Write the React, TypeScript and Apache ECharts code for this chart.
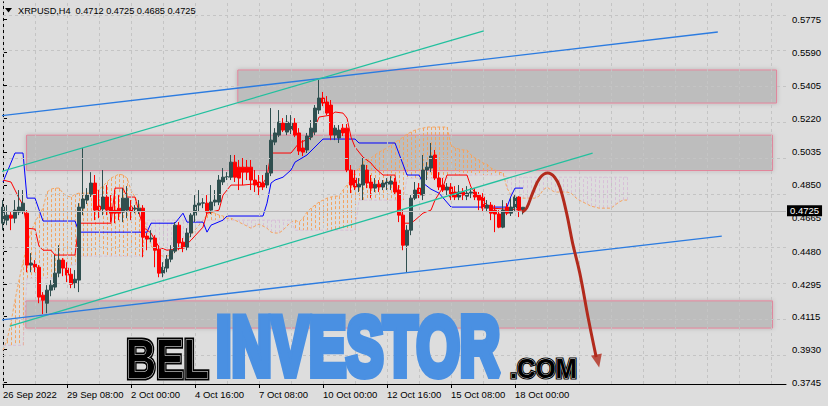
import React, { useEffect, useRef } from "react";
import * as echarts from "echarts";

// ---- axis labels ----
const timeLabels = ["26 Sep 2022", "29 Sep 08:00", "2 Oct 00:00", "4 Oct 16:00", "7 Oct 08:00", "10 Oct 00:00", "12 Oct 16:00", "15 Oct 08:00", "18 Oct 00:00"];
const priceTicks = [0.3745, 0.393, 0.4115, 0.4295, 0.448, 0.4665, 0.485, 0.5035, 0.522, 0.5405, 0.559, 0.5775];

// ---- H4 candles (bar index 0..130) ----
const opens = [
  0.4636, 0.4653, 0.4681, 0.4664, 0.4698, 0.4704, 0.4692, 0.4402, 0.4407, 0.439,
  0.4234, 0.4189, 0.4262, 0.4279, 0.4357, 0.443, 0.4385, 0.4351, 0.4301, 0.4318,
  0.472, 0.4765, 0.4798, 0.486, 0.4731, 0.4715, 0.4782, 0.4726, 0.4709, 0.472,
  0.4698, 0.4709, 0.4726, 0.4715, 0.4704, 0.472, 0.4564, 0.4547, 0.4553, 0.4491,
  0.4357, 0.4385, 0.4435, 0.448, 0.4625, 0.453, 0.4502, 0.4581, 0.4681, 0.4737,
  0.4748, 0.4748, 0.4709, 0.4754, 0.4754, 0.4866, 0.4893, 0.4893, 0.4977, 0.4949,
  0.4949, 0.4949, 0.4949, 0.4877, 0.4866, 0.486, 0.4849, 0.4916, 0.5089, 0.5128,
  0.5195, 0.5145, 0.5156, 0.5195, 0.514, 0.5056, 0.5045, 0.5117, 0.5145, 0.5268,
  0.5335, 0.5313, 0.5296, 0.5128, 0.5112, 0.5167, 0.5167, 0.4933, 0.4888, 0.4838,
  0.4849, 0.4933, 0.4866, 0.4832, 0.4854, 0.4838, 0.4854, 0.4854, 0.4866, 0.4821,
  0.4681, 0.4513, 0.4597, 0.4776, 0.4832, 0.4793, 0.4933, 0.4944, 0.5017, 0.4888,
  0.4849, 0.4821, 0.4838, 0.481, 0.4782, 0.481, 0.4787, 0.4804, 0.481, 0.4793,
  0.4782, 0.472, 0.4737, 0.4709, 0.4687, 0.4614, 0.4726, 0.4692, 0.472, 0.4782,
  0.4712,
];
const closes = [
  0.4726, 0.4681, 0.4664, 0.4709, 0.4726, 0.4748, 0.4402, 0.4413, 0.439, 0.4223,
  0.4206, 0.4262, 0.429, 0.4357, 0.443, 0.4385, 0.4346, 0.4295, 0.4323, 0.4726,
  0.4771, 0.4793, 0.486, 0.4709, 0.4709, 0.4782, 0.4709, 0.4692, 0.4692, 0.4692,
  0.4776, 0.4776, 0.4704, 0.472, 0.472, 0.4558, 0.4547, 0.4553, 0.4485, 0.4357,
  0.439, 0.4435, 0.4485, 0.4625, 0.4525, 0.4497, 0.4581, 0.4681, 0.4737, 0.4748,
  0.475, 0.4698, 0.4754, 0.4765, 0.4877, 0.4893, 0.4895, 0.4977, 0.4893, 0.4888,
  0.4921, 0.4921, 0.4877, 0.4849, 0.4838, 0.4838, 0.4916, 0.51, 0.514, 0.5201,
  0.5156, 0.5201, 0.5195, 0.5128, 0.5039, 0.5033, 0.5123, 0.5167, 0.5279, 0.5335,
  0.5307, 0.5251, 0.5128, 0.5167, 0.5156, 0.514, 0.4933, 0.4849, 0.4838, 0.4854,
  0.4961, 0.486, 0.4832, 0.4854, 0.4838, 0.486, 0.4866, 0.4871, 0.481, 0.4681,
  0.4513, 0.4597, 0.4776, 0.4821, 0.4793, 0.4933, 0.4949, 0.5011, 0.4888, 0.4838,
  0.4821, 0.4838, 0.4782, 0.4782, 0.481, 0.4793, 0.4804, 0.481, 0.4782, 0.4765,
  0.472, 0.4737, 0.4692, 0.4687, 0.4614, 0.4709, 0.4692, 0.4726, 0.4782, 0.4709,
  0.4725,
];
const lows = [
  0.4597, 0.4625, 0.4597, 0.4636, 0.4681, 0.4687, 0.4362, 0.4362, 0.4362, 0.4189,
  0.4128, 0.4133, 0.4228, 0.4262, 0.4334, 0.434, 0.4307, 0.4273, 0.4273, 0.4251,
  0.4681, 0.4743, 0.4782, 0.4653, 0.4664, 0.4681, 0.4681, 0.4642, 0.4636, 0.4653,
  0.4642, 0.4664, 0.4653, 0.4692, 0.4687, 0.4446, 0.4485, 0.453, 0.439, 0.4334,
  0.4334, 0.4362, 0.4418, 0.4469, 0.4485, 0.4474, 0.4485, 0.4558, 0.4642, 0.4698,
  0.472, 0.4681, 0.4687, 0.4731, 0.4737, 0.4849, 0.4877, 0.4877, 0.4866, 0.4821,
  0.4849, 0.4877, 0.4821, 0.481, 0.4793, 0.4821, 0.4832, 0.4899, 0.5072, 0.5117,
  0.5145, 0.5128, 0.5134, 0.5117, 0.5017, 0.5011, 0.5028, 0.51, 0.5128, 0.5246,
  0.529, 0.524, 0.51, 0.51, 0.5084, 0.5123, 0.4921, 0.4804, 0.4821, 0.481,
  0.4765, 0.4832, 0.4776, 0.481, 0.481, 0.4821, 0.4821, 0.4821, 0.4793, 0.4642,
  0.4485, 0.4362, 0.4569, 0.4765, 0.4776, 0.4765, 0.4877, 0.4921, 0.4877, 0.4821,
  0.481, 0.4793, 0.4765, 0.4765, 0.4765, 0.4765, 0.4765, 0.4776, 0.4765, 0.4709,
  0.4698, 0.4698, 0.4653, 0.4586, 0.4608, 0.4608, 0.4681, 0.4676, 0.4698, 0.467,
  0.4685,
];
const highs = [
  0.4765, 0.4737, 0.4698, 0.4765, 0.4821, 0.4821, 0.4709, 0.4469, 0.443, 0.4402,
  0.4251, 0.429, 0.4318, 0.4458, 0.4513, 0.4441, 0.4418, 0.4385, 0.4374, 0.4748,
  0.5056, 0.4832, 0.4921, 0.4905, 0.4821, 0.4933, 0.4849, 0.4793, 0.4821, 0.4793,
  0.4832, 0.4843, 0.4765, 0.4737, 0.4765, 0.4737, 0.4581, 0.4597, 0.4569, 0.4513,
  0.4418, 0.4458, 0.4513, 0.4642, 0.4642, 0.4553, 0.4608, 0.4692, 0.4793, 0.4821,
  0.4776, 0.4793, 0.4849, 0.4821, 0.4905, 0.4944, 0.4921, 0.5017, 0.5017, 0.4989,
  0.5, 0.4989, 0.4989, 0.4933, 0.4905, 0.4905, 0.4961, 0.5279, 0.5167, 0.5268,
  0.5223, 0.524, 0.524, 0.5223, 0.5167, 0.51, 0.514, 0.5212, 0.5296, 0.5436,
  0.5369, 0.5346, 0.5324, 0.5184, 0.5184, 0.519, 0.519, 0.4961, 0.4933, 0.4888,
  0.5, 0.4961, 0.4905, 0.4888, 0.4877, 0.4877, 0.4888, 0.4899, 0.4888, 0.4849,
  0.4709, 0.4625, 0.4793, 0.4866, 0.486, 0.5017, 0.4977, 0.5084, 0.5045, 0.4921,
  0.4888, 0.486, 0.486, 0.4843, 0.4849, 0.4832, 0.4843, 0.4832, 0.4832, 0.481,
  0.4804, 0.4765, 0.4754, 0.4737, 0.4709, 0.4765, 0.4748, 0.4776, 0.4793, 0.4787,
  0.4725,
];

// ---- Ichimoku ----
const spanA = [
  0.3927, 0.3982, 0.4083, 0.4206, 0.4318, 0.4418, 0.4513, 0.4586, 0.4642, 0.4681,
  0.472, 0.481, 0.4826, 0.4832, 0.4832, 0.4804, 0.4787, 0.4782, 0.4798, 0.4804,
  0.4804, 0.4804, 0.4804, 0.481, 0.4826, 0.4843, 0.4866, 0.4888, 0.4899, 0.491,
  0.4905, 0.4888, 0.4821, 0.4782, 0.4743, 0.4681, 0.4597, 0.4513, 0.4474, 0.4458,
  0.4452, 0.4452, 0.4458, 0.4474, 0.4497, 0.4519, 0.4541, 0.4569, 0.4597, 0.4625,
  0.4653, 0.4681, 0.4698, 0.4692, 0.4681, 0.4676, 0.4664, 0.4664, 0.4653, 0.4642,
  0.4631, 0.462, 0.4608, 0.462, 0.4631, 0.462, 0.4608, 0.4586, 0.4581, 0.4581,
  0.4597, 0.462, 0.4642, 0.4653, 0.4642, 0.4664, 0.4698, 0.472, 0.4737, 0.4754,
  0.4765, 0.4776, 0.4782, 0.4787, 0.4787, 0.4821, 0.4849, 0.4877, 0.4921, 0.4944,
  0.4977, 0.4989, 0.5, 0.5017, 0.5033, 0.5045, 0.5056, 0.5072, 0.5089, 0.51,
  0.5117, 0.5134, 0.5145, 0.5156, 0.5162, 0.5167, 0.5173, 0.5173, 0.5173, 0.5173,
  0.5173, 0.5173, 0.5072, 0.5056, 0.505, 0.5045, 0.5045, 0.5017, 0.5, 0.4989,
  0.4972, 0.4966, 0.4944, 0.4933, 0.4921, 0.4916, 0.4832, 0.4793, 0.4782, 0.4776,
  0.4776, 0.4776, 0.4776, 0.4776, 0.4787, 0.4821, 0.4838, 0.4821, 0.481, 0.481,
  0.481, 0.481, 0.4804, 0.4782, 0.4765, 0.4754, 0.4743, 0.4731, 0.4726, 0.472,
  0.472, 0.472, 0.472, 0.4737, 0.4754, 0.4765, 0.4765,
];
const spanB = [
  0.3954, 0.3954, 0.3954, 0.3954, 0.3954, 0.3954, 0.4329, 0.4329, 0.4329, 0.4329,
  0.4329, 0.4329, 0.4329, 0.4329, 0.4402, 0.4402, 0.4402, 0.4402, 0.4402, 0.4452,
  0.4452, 0.4452, 0.4452, 0.4452, 0.4452, 0.4452, 0.4452, 0.4452, 0.4452, 0.4452,
  0.4452, 0.4452, 0.4452, 0.4452, 0.4452, 0.4452, 0.4653, 0.4653, 0.4653, 0.4653,
  0.4653, 0.4653, 0.4653, 0.4653, 0.4653, 0.4653, 0.4653, 0.4653, 0.4653, 0.4653,
  0.4653, 0.4653, 0.4653, 0.4653, 0.4653, 0.4653, 0.4653, 0.4653, 0.4653, 0.4653,
  0.4653, 0.4653, 0.4653, 0.4653, 0.4653, 0.4653, 0.4653, 0.4653, 0.4653, 0.4653,
  0.4653, 0.4653, 0.4653, 0.4597, 0.4597, 0.4597, 0.4597, 0.4597, 0.4597, 0.4597,
  0.4597, 0.4597, 0.4597, 0.4597, 0.4597, 0.4597, 0.4597, 0.4597, 0.4597, 0.4765,
  0.4765, 0.4765, 0.4765, 0.4765, 0.4765, 0.4765, 0.4765, 0.4765, 0.4765, 0.4765,
  0.4765, 0.4888, 0.4888, 0.4888, 0.4888, 0.4888, 0.4888, 0.4888, 0.4888, 0.4888,
  0.4888, 0.4888, 0.4905, 0.4905, 0.4905, 0.4905, 0.4905, 0.4905, 0.4905, 0.4905,
  0.4905, 0.4905, 0.4905, 0.4905, 0.4905, 0.4905, 0.4893, 0.4893, 0.4893, 0.4893,
  0.4893, 0.4893, 0.4893, 0.4893, 0.4893, 0.4893, 0.4893, 0.4893, 0.4893, 0.4893,
  0.4893, 0.4893, 0.4893, 0.4893, 0.4893, 0.4893, 0.4893, 0.4893, 0.4893, 0.4893,
  0.4893, 0.4893, 0.4893, 0.4893, 0.4893, 0.4893, 0.4893,
];
// Tenkan-sen / Kijun-sen vertices [bar, price]
const tenkan = [
  [0, 0.4877], [2, 0.4866], [3, 0.4821], [4, 0.4776], [5, 0.4737], [6, 0.4608], [8, 0.4603], [9, 0.4508], [10, 0.4485], [12, 0.4485],
  [13, 0.4458], [18, 0.4458], [19, 0.4636], [27, 0.4636], [28, 0.4832], [30, 0.4832], [31, 0.4782], [33, 0.4782], [35, 0.4614], [37, 0.4581],
  [39, 0.4502], [41, 0.4485], [45, 0.4497], [47, 0.4541], [50, 0.4614], [51, 0.4692], [54, 0.4709], [55, 0.4793], [57, 0.4849], [60, 0.4849],
  [65, 0.486], [66, 0.4893], [67, 0.5028], [72, 0.5028], [74, 0.5084], [77, 0.5112], [79, 0.5229], [82, 0.524], [83, 0.5257], [85, 0.5251],
  [86, 0.5223], [87, 0.5117], [88, 0.5061], [90, 0.5005], [92, 0.4972], [93, 0.4944], [95, 0.4905], [98, 0.4905], [99, 0.4737], [100, 0.4636],
  [102, 0.4636], [103, 0.4653], [105, 0.4692], [107, 0.4709], [108, 0.4765], [110, 0.4838], [111, 0.4905], [116, 0.4905], [117, 0.4838], [119, 0.4776],
  [122, 0.472], [130, 0.4709],
];
const kijun = [
  [0, 0.4866], [3, 0.5028], [5, 0.5028], [6, 0.4776], [8, 0.4776], [10, 0.4648], [18, 0.4648], [19, 0.4586], [36, 0.4586], [37, 0.4636],
  [43, 0.4636], [45, 0.4692], [46, 0.4642], [50, 0.4642], [51, 0.4586], [52, 0.4625], [55, 0.4653], [56, 0.4676], [65, 0.4676], [66, 0.4748],
  [67, 0.486], [68, 0.4877], [70, 0.4893], [72, 0.4933], [73, 0.4977], [76, 0.5017], [79, 0.5084], [80, 0.5106], [88, 0.5106], [89, 0.5084],
  [98, 0.5084], [101, 0.4905], [104, 0.4905], [105, 0.486], [107, 0.4826], [109, 0.4804], [112, 0.4726], [126, 0.4726], [127, 0.4787], [128, 0.4832],
  [130, 0.4832],
];

// ---- drawn objects [bar, price] ----
const blueUpper = [[-0.8, 0.5235], [178.7, 0.5704]];
const tealUpper = [[-0.8, 0.4922], [120.2, 0.571]];
const tealLower = [[1.7, 0.4061], [147.4, 0.5028]];
const blueLower = [[-0.8, 0.4095], [179.7, 0.4564]];
const zones = [
  [58.7, 0.5492, 193.4, 0.5307],
  [5.9, 0.5128, 192.4, 0.493],
  [5.7, 0.4202, 192.4, 0.405],
];
const arrowPath = [
  [129.8, 0.4698], [130.9, 0.472], [132.4, 0.4804], [134.2, 0.4888], [136.2, 0.4916], [137.9, 0.4893], [139.2, 0.4838],
  [140.9, 0.4692], [142.4, 0.4525], [144.2, 0.4357], [146.4, 0.4095], [148.3, 0.3888],
];
const arrowTip = [148.7, 0.3866];
const lastPrice = 0.4725;
const headerSymbol = "XRPUSD,H4";
const headerOhlc = "0.4712 0.4725 0.4685 0.4725";

export default function App() {
  const ref = useRef<HTMLDivElement>(null);
  useEffect(() => {
    document.body.style.margin = "0";
    const chart = echarts.init(ref.current as HTMLDivElement, null, { renderer: "svg" });
    const font = '"Liberation Sans", Arial, sans-serif';
    const X_MAX = 195.75;
    const Y_MIN = 0.37377;
    const Y_MAX = 0.58716;
    const gridX: number[] = [];
    for (let v = 0; v <= 192; v += 8) gridX.push(v);
    const labelPos = timeLabels.map((_, k) => k * 16);
    const candles = opens.map((o, i) => [i, o, closes[i], lows[i], highs[i]]);

    const trend = (data: number[][], color: string) => ({
      type: "line",
      data,
      z: 5,
      symbol: "none",
      silent: true,
      lineStyle: { color, width: 1.3 },
    });

    const option: any = {
      animation: false,
      backgroundColor: "#dddddd",
      grid: { left: 3, right: 42, top: 2, bottom: 22 },
      xAxis: {
        type: "value",
        min: 0,
        max: X_MAX,
        axisLine: { show: true, onZero: false, lineStyle: { color: "#000", width: 1 } },
        axisTick: { show: true, length: 4, customValues: labelPos, lineStyle: { color: "#000" } },
        axisLabel: {
          show: true,
          customValues: labelPos,
          formatter: (v: number) => timeLabels[Math.round(v / 16)] ?? "",
          align: "left",
          margin: 5,
          color: "#000",
          fontSize: 9.5,
          fontFamily: font,
        },
        splitLine: { show: false },
      },
      yAxis: [
        {
          type: "value",
          position: "right",
          min: Y_MIN,
          max: Y_MAX,
          axisLine: { show: true, lineStyle: { color: "#000" } },
          axisTick: { show: true, length: 4, customValues: priceTicks, lineStyle: { color: "#000" } },
          axisLabel: {
            customValues: priceTicks,
            formatter: (v: number) => v.toFixed(4),
            margin: 6,
            color: "#000",
            fontSize: 9.5,
            lineHeight: 9,
            fontFamily: font,
          },
          splitLine: { show: false },
        },
        {
          type: "value",
          position: "left",
          min: Y_MIN,
          max: Y_MAX,
          axisLine: { show: true, lineStyle: { color: "#000" } },
          axisTick: { show: false },
          axisLabel: { show: false },
          splitLine: { show: false },
        },
      ],
      series: [
        {
          type: "line",
          data: [],
          z: 1,
          silent: true,
          symbol: "none",
          markLine: {
            silent: true,
            symbol: ["none", "none"],
            label: { show: false },
            lineStyle: { color: "#c4c4c4", type: [3, 3], width: 1 },
            data: [...gridX.map((v) => ({ xAxis: v })), ...priceTicks.map((v) => ({ yAxis: v }))],
          },
        },
        {
          type: "custom",
          z: 2,
          silent: true,
          data: spanA.map((a, i) => [i, a, spanB[i]]),
          encode: { x: 0, y: [1, 2] },
          renderItem: (_p: any, api: any) => {
            const i = api.value(0);
            const a = api.value(1);
            const b = api.value(2);
            const p1 = api.coord([i, a]);
            const p2 = api.coord([i, b]);
            const x = Math.round(p1[0]) + 0.5;
            return {
              type: "line",
              shape: { x1: x, y1: p1[1], x2: x, y2: p2[1] },
              style: { stroke: a >= b ? "#f4a460" : "#d8bfd8", lineWidth: 1, lineDash: [3, 2] },
            };
          },
        },
        {
          type: "line",
          z: 2,
          silent: true,
          symbol: "none",
          data: spanA.map((a, i) => [i, a]),
          lineStyle: { color: "#f4a460", width: 1, type: [3, 2] },
        },
        {
          type: "line",
          z: 2,
          silent: true,
          symbol: "none",
          data: spanB.map((b, i) => [i, b]),
          lineStyle: { color: "#d8bfd8", width: 1, type: [3, 2] },
        },
        { type: "line", z: 3, silent: true, symbol: "none", data: kijun, lineStyle: { color: "#0000ff", width: 1 } },
        { type: "line", z: 3, silent: true, symbol: "none", data: tenkan, lineStyle: { color: "#ff0000", width: 1 } },
        {
          type: "candlestick",
          z: 4,
          silent: true,
          barWidth: 3,
          data: candles,
          encode: { x: 0, y: [1, 2, 3, 4] },
          itemStyle: {
            color: "#2f4f4f",
            color0: "#ff0000",
            borderColor: "#2f4f4f",
            borderColor0: "#ff0000",
            borderWidth: 1,
          },
          markLine: {
            silent: true,
            symbol: ["none", "none"],
            lineStyle: { color: "#b9b9b9", type: "solid", width: 1 },
            label: {
              show: true,
              position: "end",
              distance: 1,
              offset: [0, -1],
              formatter: () => lastPrice.toFixed(4),
              color: "#fff",
              backgroundColor: "#000",
              padding: [1, 3, 1, 3],
              lineHeight: 9,
              fontSize: 9.5,
              fontFamily: font,
            },
            data: [{ yAxis: lastPrice }],
          },
        },
        trend(blueUpper, "#2b7be0"),
        trend(tealUpper, "#22c09e"),
        trend(tealLower, "#22c09e"),
        trend(blueLower, "#2b7be0"),
        {
          type: "line",
          data: [],
          z: 6,
          silent: true,
          symbol: "none",
          markArea: {
            silent: true,
            itemStyle: {
              color: "rgba(176,176,176,0.55)",
              borderColor: "#e2849a",
              borderWidth: 1,
              shadowBlur: 4,
              shadowColor: "rgba(0,0,0,0.25)",
            },
            data: zones.map((z) => [{ coord: [z[0], z[1]] }, { coord: [z[2], z[3]] }]),
          },
        },
        {
          type: "line",
          z: 7,
          silent: true,
          symbol: "none",
          smooth: 0.4,
          clip: false,
          data: arrowPath,
          lineStyle: { color: "#b22a1c", width: 3 },
        },
        {
          type: "scatter",
          z: 7,
          silent: true,
          clip: false,
          data: [arrowTip],
          symbol: "triangle",
          symbolSize: [11, 13],
          symbolRotate: 192,
          itemStyle: { color: "#b22a1c" },
        },
      ],
      graphic: [
        { type: "polygon", z: 100, shape: { points: [[5, 8], [12, 8], [8.5, 12.5]] }, style: { fill: "#000" } },
        { type: "text", z: 100, x: 18, y: 11, style: { text: headerSymbol, font: `9.2px ${font}`, fill: "#000", verticalAlign: "middle" } },
        { type: "text", z: 100, x: 75.5, y: 11, style: { text: headerOhlc, font: `9.2px ${font}`, fill: "#000", verticalAlign: "middle" } },
        {
          type: "text", z: 100, x: 126, y: 358, scaleX: 0.74,
          style: { text: "BEL", font: `bold 56px ${font}`, fill: "#000", stroke: "#000", lineWidth: 5, verticalAlign: "middle" },
        },
        {
          type: "text", z: 101, x: 126, y: 358, scaleX: 0.74,
          style: { text: "BEL", font: `bold 56px ${font}`, fill: "#000", stroke: "#eeeeee", lineWidth: 1.2, verticalAlign: "middle" },
        },
        {
          type: "text", z: 100, x: 216, y: 346, scaleX: 0.664,
          style: {
            text: "INVESTOR", font: `bold 84px ${font}`, fill: "#4a90e2", stroke: "#4a90e2", lineWidth: 8,
            verticalAlign: "middle", shadowBlur: 3, shadowColor: "rgba(0,0,0,0.35)", shadowOffsetX: 1, shadowOffsetY: 1,
          },
        },
        {
          type: "text", z: 100, x: 510, y: 369, scaleX: 0.95,
          style: { text: ".COM", font: `bold 27px ${font}`, fill: "#000", stroke: "#000", lineWidth: 3, verticalAlign: "middle" },
        },
        {
          type: "text", z: 101, x: 510, y: 369, scaleX: 0.95,
          style: { text: ".COM", font: `bold 27px ${font}`, fill: "#000", stroke: "#eeeeee", lineWidth: 0.8, verticalAlign: "middle" },
        },
      ],
    };
    chart.setOption(option);
    return () => chart.dispose();
  }, []);
  return <div ref={ref} style={{ position: "absolute", left: 0, top: 0, width: 828, height: 406 }} />;
}
